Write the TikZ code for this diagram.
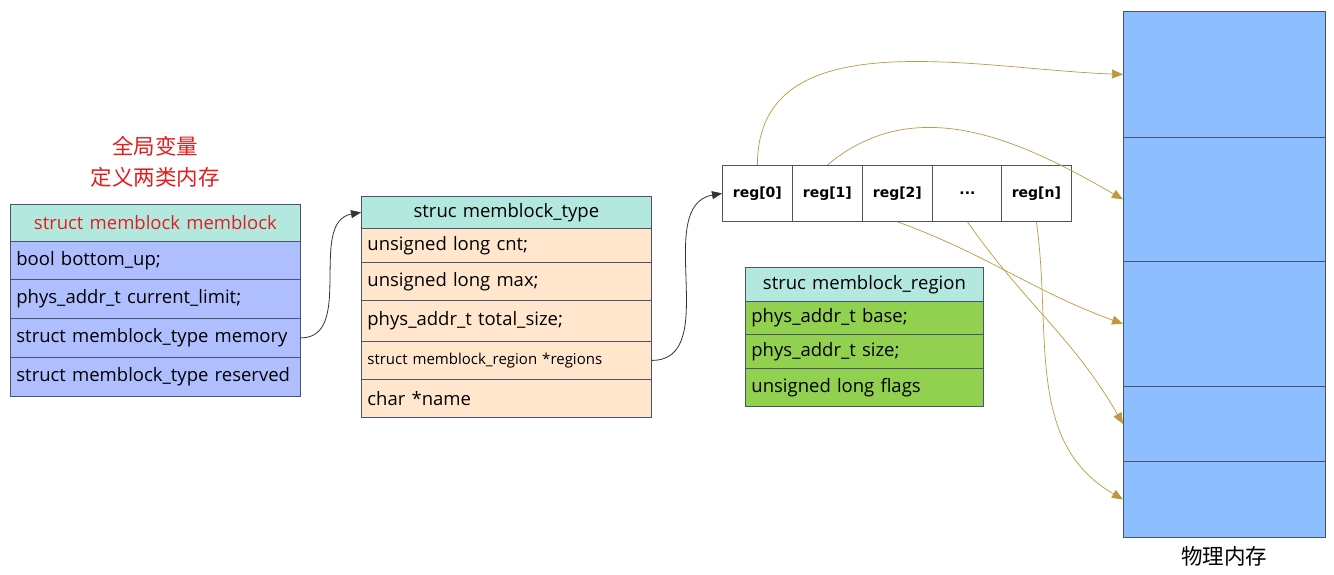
\documentclass[tikz,border=0pt]{standalone}
\usepackage{fontspec}
\usepackage{tikz}
\usetikzlibrary{arrows.meta}

\setmainfont{Open Sans}
\newfontfamily\cjk{Noto Sans CJK SC}
\newfontfamily\regfont{DejaVu Sans}

\definecolor{headteal}{RGB}{179,232,223}
\definecolor{globblue}{RGB}{175,190,255}
\definecolor{typepeach}{RGB}{255,230,204}
\definecolor{regiongreen}{RGB}{146,208,80}
\definecolor{memblue}{RGB}{141,190,255}
\definecolor{edgegray}{RGB}{72,84,108}
\definecolor{linkgold}{RGB}{190,152,62}
\definecolor{notered}{RGB}{228,28,28}

\tikzset{
    cell/.style={draw=edgegray, line width=0.8pt, anchor=north west,
        inner xsep=6pt, inner ysep=0pt, align=left,
        font=\fontsize{18.5}{22}\selectfont},
    globrow/.style={cell, fill=globblue, text width=278pt, minimum height=#1},
    typerow/.style={cell, fill=typepeach, text width=278pt, minimum height=#1},
    regionrow/.style={cell, fill=regiongreen, text width=226pt, minimum height=#1},
    headrow/.style={cell, fill=headteal, align=center, minimum height=#1},
    regcell/.style={draw=edgegray, line width=0.8pt, fill=white, anchor=north west,
        minimum width=70pt, minimum height=56pt, inner sep=0pt,
        font=\regfont\bfseries\fontsize{14}{16}\selectfont},
    memcell/.style={draw=edgegray, line width=0.8pt, fill=memblue, anchor=north west,
        minimum width=202pt, minimum height=#1, inner sep=0pt},
    ptr/.style={-{Triangle[length=10pt,width=8pt]}, line width=0.8pt, draw=black!80},
    link/.style={-{Triangle[length=11pt,width=9pt]}, line width=0.7pt, draw=linkgold}
}

\begin{document}
\begin{tikzpicture}[x=1pt, y=-1pt]
    \useasboundingbox (0,0) rectangle (1334,575);

    % global variable memblock
    \node[text=notered, align=center, font=\cjk\fontsize{21.5}{31}\selectfont] (gnote) at (155,162) {全局变量\\定义两类内存};
    \node[headrow=37pt, text width=278pt, text=notered] (ghead) at (10,204) {struct memblock memblock};
    \node[globrow=38pt] (gbottom) at (10,241) {bool bottom\_up;};
    \node[globrow=39pt] (glimit) at (10,279) {phys\_addr\_t current\_limit;};
    \node[globrow=39pt] (gmemory) at (10,318) {struct memblock\_type memory};
    \node[globrow=39pt] (greserved) at (10,357) {struct memblock\_type reserved};

    % struct memblock_type
    \node[headrow=32pt, text width=278pt] (thead) at (361,196) {struc memblock\_type};
    \node[typerow=34pt] (tcnt) at (361,228) {unsigned long cnt;};
    \node[typerow=38pt] (tmax) at (361,262) {unsigned long max;};
    \node[typerow=41pt] (tsize) at (361,300) {phys\_addr\_t total\_size;};
    \node[typerow=38pt, font=\fontsize{15}{18}\selectfont] (tregions) at (361,341) {struct memblock\_region *regions};
    \node[typerow=38pt] (tname) at (361,379) {char *name};

    % regions array
    \node[regcell] (reg0) at (722,165) {reg[0]};
    \node[regcell] (reg1) at (792,165) {reg[1]};
    \node[regcell] (reg2) at (862,165) {reg[2]};
    \node[regcell] (regdots) at (932,165) {...};
    \node[regcell] (regn) at (1001,165) {reg[n]};

    % struct memblock_region
    \node[headrow=34pt, text width=226pt] (rhead) at (745,267) {struc memblock\_region};
    \node[regionrow=33pt] (rbase) at (745,301) {phys\_addr\_t base;};
    \node[regionrow=34pt] (rsize) at (745,334) {phys\_addr\_t size;};
    \node[regionrow=38pt] (rflags) at (745,368) {unsigned long flags};

    % physical memory
    \node[memcell=126pt] (mem1) at (1123,11) {};
    \node[memcell=124pt] (mem2) at (1123,137) {};
    \node[memcell=125pt] (mem3) at (1123,261) {};
    \node[memcell=75pt] (mem4) at (1123,386) {};
    \node[memcell=76pt] (mem5) at (1123,461) {};
    \node[font=\cjk\fontsize{21.5}{24}\selectfont] (memlabel) at (1224,556) {物理内存};

    % pointers
    \draw[ptr] (gmemory.east) to[out=0, in=190] (thead.west);
    \draw[ptr] (tregions.east) to[out=0, in=190] (reg0.west);

    % regions to memory
    \draw[link] (reg0.north) to[out=90, in=178] (mem1.west);
    \draw[link] (reg1.north) to[out=40, in=150] (mem2.west);
    \draw[link] (reg2.south) to[out=-20, in=160] (mem3.west);
    \draw[link] (regdots.south) to[out=-55, in=120] (mem4.west);
    \draw[link] (regn.south) to[out=-82, in=150] (mem5.west);
\end{tikzpicture}
\end{document}
